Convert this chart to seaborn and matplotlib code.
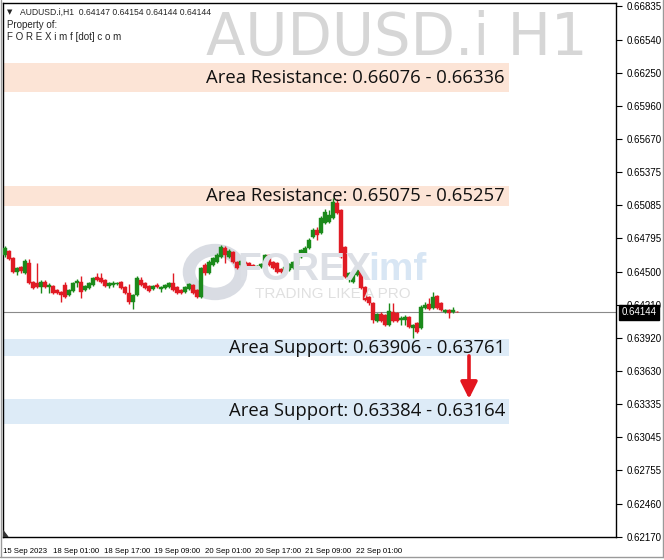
import numpy as np
import seaborn as sns
import matplotlib.pyplot as plt
from matplotlib.patches import Circle, Polygon
from matplotlib.lines import Line2D

# chart data (AUDUSD.i H1)
symbol = "AUDUSD.i"
timeframe = "H1"

opens = [0.64649, 0.64684, 0.64623, 0.64500, 0.64544, 0.64491, 0.64579, 0.64412, 0.64403, 0.64368,
         0.64412, 0.64368, 0.64377, 0.64342, 0.64324, 0.64386, 0.64298, 0.64333, 0.64403, 0.64412,
         0.64342, 0.64360, 0.64386, 0.64456, 0.64447, 0.64430, 0.64377, 0.64386, 0.64395, 0.64412,
         0.64368, 0.64316, 0.64237, 0.64298, 0.64430, 0.64403, 0.64377, 0.64351, 0.64386, 0.64351,
         0.64360, 0.64368, 0.64403, 0.64368, 0.64342, 0.64324, 0.64351, 0.64386, 0.64342, 0.64281,
         0.64561, 0.64491, 0.64561, 0.64588, 0.64632, 0.64711, 0.64632, 0.64676, 0.64588, 0.64561,
         0.64588, 0.64579, 0.64561, 0.64535, 0.64544, 0.64561, 0.64649, 0.64588, 0.64579, 0.64526,
         0.64491, 0.64518, 0.64535, 0.64561, 0.64632, 0.64658, 0.64711, 0.64807, 0.64869, 0.64842,
         0.64930, 0.64939, 0.64974, 0.65106, 0.65044, 0.64720, 0.64447, 0.64412, 0.64474, 0.64518,
         0.64368, 0.64281, 0.64228, 0.64070, 0.64131, 0.64122, 0.64035, 0.64149, 0.64140, 0.64079,
         0.64079, 0.64105, 0.64008, 0.64052, 0.64008, 0.64184, 0.64219, 0.64184, 0.64289, 0.64228,
         0.64149, 0.64166, 0.64149, 0.64147]
highs = [0.64728, 0.64693, 0.64632, 0.64544, 0.64553, 0.64614, 0.64614, 0.64421, 0.64579, 0.64430,
         0.64430, 0.64403, 0.64386, 0.64351, 0.64333, 0.64412, 0.64351, 0.64412, 0.64439, 0.64465,
         0.64386, 0.64412, 0.64456, 0.64491, 0.64491, 0.64439, 0.64412, 0.64421, 0.64412, 0.64421,
         0.64377, 0.64395, 0.64307, 0.64465, 0.64456, 0.64412, 0.64386, 0.64386, 0.64403, 0.64377,
         0.64395, 0.64412, 0.64491, 0.64377, 0.64351, 0.64377, 0.64403, 0.64395, 0.64351, 0.64544,
         0.64579, 0.64605, 0.64632, 0.64667, 0.64737, 0.64728, 0.64702, 0.64684, 0.64597, 0.64605,
         0.64597, 0.64588, 0.64570, 0.64561, 0.64579, 0.64658, 0.64658, 0.64597, 0.64588, 0.64535,
         0.64553, 0.64579, 0.64597, 0.64632, 0.64702, 0.64728, 0.64799, 0.64886, 0.64895, 0.64992,
         0.65053, 0.65044, 0.65150, 0.65141, 0.65053, 0.64728, 0.64500, 0.64509, 0.64535, 0.64526,
         0.64377, 0.64289, 0.64237, 0.64140, 0.64149, 0.64131, 0.64228, 0.64228, 0.64149, 0.64114,
         0.64122, 0.64114, 0.64043, 0.64061, 0.64210, 0.64237, 0.64272, 0.64324, 0.64298, 0.64237,
         0.64175, 0.64175, 0.64193, 0.64154]
lows = [0.64632, 0.64605, 0.64491, 0.64474, 0.64491, 0.64482, 0.64395, 0.64351, 0.64360, 0.64316,
        0.64360, 0.64316, 0.64307, 0.64307, 0.64237, 0.64272, 0.64289, 0.64324, 0.64368, 0.64272,
        0.64333, 0.64351, 0.64377, 0.64421, 0.64403, 0.64368, 0.64360, 0.64368, 0.64386, 0.64351,
        0.64307, 0.64219, 0.64175, 0.64289, 0.64377, 0.64351, 0.64324, 0.64342, 0.64360, 0.64324,
        0.64351, 0.64360, 0.64333, 0.64307, 0.64307, 0.64316, 0.64342, 0.64307, 0.64272, 0.64272,
        0.64474, 0.64482, 0.64553, 0.64579, 0.64623, 0.64579, 0.64623, 0.64579, 0.64526, 0.64553,
        0.64561, 0.64544, 0.64535, 0.64526, 0.64535, 0.64553, 0.64553, 0.64526, 0.64491, 0.64491,
        0.64482, 0.64509, 0.64526, 0.64553, 0.64623, 0.64649, 0.64702, 0.64799, 0.64781, 0.64834,
        0.64921, 0.64930, 0.64965, 0.65009, 0.64623, 0.64447, 0.64412, 0.64403, 0.64465, 0.64351,
        0.64245, 0.64210, 0.64052, 0.64061, 0.64061, 0.64026, 0.64026, 0.64061, 0.64061, 0.64035,
        0.64035, 0.64008, 0.63921, 0.63964, 0.63999, 0.64175, 0.64166, 0.64175, 0.64175, 0.64158,
        0.64140, 0.64096, 0.64140, 0.64144]
closes = [0.64711, 0.64614, 0.64500, 0.64535, 0.64509, 0.64597, 0.64403, 0.64360, 0.64368, 0.64412,
          0.64368, 0.64386, 0.64316, 0.64316, 0.64298, 0.64281, 0.64342, 0.64403, 0.64421, 0.64324,
          0.64377, 0.64403, 0.64447, 0.64430, 0.64412, 0.64377, 0.64403, 0.64403, 0.64403, 0.64360,
          0.64316, 0.64237, 0.64298, 0.64447, 0.64386, 0.64360, 0.64333, 0.64377, 0.64368, 0.64368,
          0.64386, 0.64403, 0.64342, 0.64316, 0.64316, 0.64368, 0.64395, 0.64316, 0.64281, 0.64535,
          0.64491, 0.64588, 0.64623, 0.64649, 0.64720, 0.64649, 0.64684, 0.64588, 0.64535, 0.64597,
          0.64570, 0.64553, 0.64544, 0.64553, 0.64570, 0.64649, 0.64561, 0.64535, 0.64500, 0.64500,
          0.64544, 0.64570, 0.64588, 0.64623, 0.64693, 0.64711, 0.64781, 0.64869, 0.64825, 0.64974,
          0.65027, 0.65000, 0.65115, 0.65018, 0.64632, 0.64456, 0.64491, 0.64491, 0.64518, 0.64360,
          0.64254, 0.64228, 0.64079, 0.64131, 0.64070, 0.64035, 0.64158, 0.64070, 0.64070, 0.64096,
          0.64105, 0.64017, 0.64035, 0.63973, 0.64193, 0.64210, 0.64175, 0.64281, 0.64184, 0.64166,
          0.64166, 0.64140, 0.64166, 0.64144]

date_labels = ['15 Sep 2023', '18 Sep 01:00', '18 Sep 17:00', '19 Sep 09:00',
               '20 Sep 01:00', '20 Sep 17:00', '21 Sep 09:00', '22 Sep 01:00']
price_ticks = [0.66835, 0.66540, 0.66250, 0.65960, 0.65670, 0.65375, 0.65085, 0.64795, 0.64500,
               0.64210, 0.63920, 0.63630, 0.63335, 0.63045, 0.62755, 0.62460, 0.62170]

resistance_zones = [(0.66076, 0.66336), (0.65075, 0.65257)]
support_zones = [(0.63906, 0.63761), (0.63384, 0.63164)]

W, H = 664, 560


def px(x, y):
    # pixel position -> figure fraction
    return x / W, 1 - y / H


sns.set_style("white")
plt.rcParams['font.family'] = ['Liberation Sans', 'DejaVu Sans']

fig = plt.figure(figsize=(W / 100, H / 100), dpi=100)
ax = fig.add_axes([3 / W, (H - 537) / H, 613 / W, 534 / H])

idx = np.arange(len(closes))
o = np.array(opens)
c = np.array(closes)
up = c >= o
colors = np.where(up, '#1b8a1b', '#e01b24')

x_lo, x_hi = -0.5, 152.75
ax.set_xlim(x_lo, x_hi)
ax.set_ylim(0.62170, 0.66861)

# zones
zone_right = 126
frac = (zone_right - x_lo) / (x_hi - x_lo)
for lo, hi in resistance_zones:
    ax.axhspan(min(lo, hi), max(lo, hi), xmin=0, xmax=frac, color='#fce4d6', lw=0, zorder=1)
    ax.text(zone_right - 1, (lo + hi) / 2, f'Area Resistance: {lo:.5f} - {hi:.5f}',
            ha='right', va='center', fontsize=13.3, family='Open Sans', color='#111111', zorder=5)
for hi, lo in support_zones:
    ax.axhspan(lo, hi, xmin=0, xmax=frac, color='#ddebf7', lw=0, zorder=1)
    ax.text(zone_right - 1, (lo + hi) / 2, f'Area Support: {hi:.5f} - {lo:.5f}',
            ha='right', va='center', fontsize=13.3, family='Open Sans', color='#111111', zorder=5)

# FOREXimf watermark behind the candles
logo_c = Circle((215 / W, 1 - 272 / H), 26 / W, transform=fig.transFigure,
                facecolor='none', edgecolor='#d9dce3', lw=9, zorder=0.5)
ax.add_artist(logo_c)
logo_c.set_clip_on(False)
fig.text(*px(237, 270), 'FOREX', fontsize=28, fontweight='bold', color='#dcdfe5',
         va='center', ha='left', zorder=0.5)
fig.text(*px(368, 270), 'imf', fontsize=28, fontweight='bold', color='#d8e6f4',
         va='center', ha='left', zorder=0.5)
fig.text(*px(255, 294), 'TRADING LIKE A PRO', fontsize=11, color='#e0e0e0',
         va='center', ha='left', zorder=0.5)

# candles
ax.axhline(closes[-1], color='#8a8a8a', lw=0.8, zorder=2)
ax.vlines(idx, lows, highs, colors=colors, lw=1.0, zorder=3)
body = np.maximum(np.abs(c - o), 0.00002)
ax.bar(idx, body, bottom=np.minimum(o, c), width=0.78, color=colors,
       edgecolor=colors, lw=0.3, zorder=4)

# red arrow from first support down to the second
arrow_x = 116
ax.annotate('', xy=(arrow_x, support_zones[1][0]), xytext=(arrow_x, support_zones[0][1]),
            arrowprops=dict(arrowstyle='-|>,head_width=0.5,head_length=1.0',
                            color='#e3161f', lw=2.6, shrinkA=0, shrinkB=0), zorder=6)

# axes styling like MT4
for s in ax.spines.values():
    s.set_color('black')
    s.set_linewidth(1)
ax.yaxis.tick_right()
ax.set_yticks(price_ticks)
ax.set_yticklabels([f'{v:.5f}' for v in price_ticks])
step = 12.6
ax.set_xticks([x_lo + step * k for k in range(len(date_labels))])
ax.set_xticklabels(date_labels, ha='left')
ax.tick_params(axis='both', direction='out', length=4, width=0.8, labelsize=7,
               colors='black', pad=3)
ax.tick_params(axis='x', labelsize=5.6, pad=4)
ax.tick_params(axis='y', pad=4)
ax.set_xlabel('')
ax.set_ylabel('')

# current price label
ax.annotate(f'{closes[-1]:.5f}', xy=(1.0, closes[-1]), xycoords=('axes fraction', 'data'),
            xytext=(4, 0), textcoords='offset points', ha='left', va='center',
            fontsize=7, color='white', zorder=10,
            bbox=dict(boxstyle='square,pad=0.25', fc='black', ec='black'))

# corner shift marker
ax.add_patch(Polygon([[0, 0], [0.008, 0], [0, 0.012]], closed=True, transform=ax.transAxes,
                     color='#333333', zorder=6))

# header texts
fig.text(*px(7, 12), '\u25bc', fontsize=5, va='center', family='DejaVu Sans')
fig.text(*px(20, 12), f'{symbol},{timeframe}  {opens[-1]:.5f} {highs[-1]:.5f} {lows[-1]:.5f} {closes[-1]:.5f}',
         fontsize=6.2, va='center')
fig.text(*px(7, 25), 'Property of:', fontsize=7, va='center')
fig.text(*px(7, 37), 'F O R E X i m f [dot] c o m', fontsize=7, va='center')
fig.text(*px(588, 39), f'{symbol} {timeframe}', fontsize=41.5, color='#d6d6d6', ha='right',
         va='center', family='DejaVu Sans', zorder=0.5)

# window frame
for x0, y0, x1, y1 in [(0.5, 0, 0.5, 557), (0, 556.5, 664, 556.5), (663, 0, 663, 557)]:
    fig.add_artist(Line2D([x0 / W, x1 / W], [1 - y0 / H, 1 - y1 / H], color='#9a9a9a', lw=1))

fig.savefig('out.png', dpi=100)
